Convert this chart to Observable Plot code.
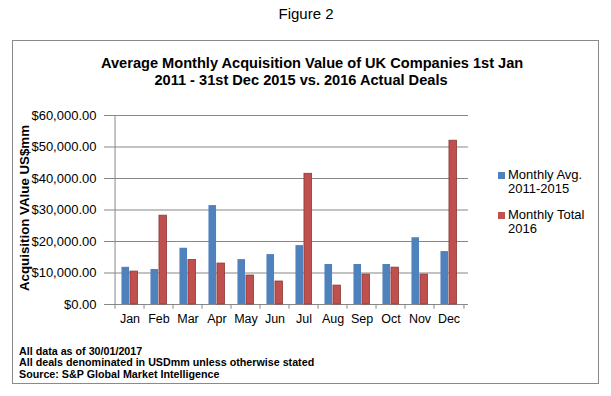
<!DOCTYPE html>
<html><head><meta charset="utf-8">
<script src="https://cdn.jsdelivr.net/npm/d3@7"></script>
<script src="https://cdn.jsdelivr.net/npm/@observablehq/plot@0.6"></script>
<style>
body{margin:0;background:#fff;font-family:"Liberation Sans",Arial,sans-serif;}
#wrap{position:relative;width:611px;height:396px;overflow:hidden;}
.abs{position:absolute;white-space:nowrap;color:#000;}
#frame{position:absolute;left:12px;top:40px;width:585px;height:342px;border:1px solid #8a8a8a;}
#chart{position:absolute;left:0;top:0;}
.sw{position:absolute;width:7px;height:7px;}
</style></head>
<body><div id="wrap">
<div id="frame"></div>
<div class="abs" style="left:205.5px;width:200px;top:6.5px;text-align:center;font-size:14px;line-height:14px;transform:scaleX(1.07);">Figure 2</div>
<div class="abs" style="left:101px;width:400px;top:55px;text-align:center;font-size:14.6px;font-weight:bold;line-height:16.7px;">Average Monthly Acquisition Value of UK Companies 1st Jan<br>2011 - 31st Dec 2015 vs. 2016 Actual Deals</div>
<div id="chart"></div>
<div class="abs" style="left:19px;top:345.5px;font-size:10.5px;font-weight:bold;line-height:11.8px;transform:scaleX(1.02);transform-origin:left top;">All data as of 30/01/2017<br>All deals denominated in USDmm unless otherwise stated<br>Source: S&amp;P Global Market Intelligence</div>
<div class="sw" style="left:498px;top:172px;background:#4f81bd"></div>
<div class="abs" style="left:508px;top:167.5px;font-size:13px;line-height:14px;">Monthly Avg.<br>2011-2015</div>
<div class="sw" style="left:498px;top:211.5px;background:#c0504d;"></div>
<div class="abs" style="left:508px;top:207.5px;font-size:13px;line-height:14px;">Monthly Total<br>2016</div>
</div>
<script>
const months = ["Jan","Feb","Mar","Apr","May","Jun","Jul","Aug","Sep","Oct","Nov","Dec"];
const avg2011_2015 = [11800, 11100, 17850, 31400, 14250, 15850, 18700, 12700, 12700, 12700, 21200, 16800];
const total2016 = [10450, 28200, 14150, 13000, 9200, 7300, 41500, 6000, 9500, 11700, 9500, 52000];
const yTicks = [0, 10000, 20000, 30000, 40000, 50000, 60000];

const rowsA = months.map((m, i) => ({month: m, value: avg2011_2015[i]}));
const rowsB = months.map((m, i) => ({month: m, value: total2016[i]}));

const W = 611, H = 396;
const ml = 109, mr = 143, mt = 115, mb = 92;
const step = (W - ml - mr) / months.length;
const bw = 8.5;
const off = (step - 2 * bw) / 2;
const fmt = d3.format("$,.2f");

const plot = Plot.plot({
  width: W, height: H,
  marginLeft: ml, marginRight: mr, marginTop: mt, marginBottom: mb,
  style: {fontFamily: "Liberation Sans, Arial, sans-serif", fontSize: "13px", color: "#000", background: "transparent"},
  x: {domain: months, padding: 0, label: null},
  y: {domain: [0, 60000], label: null},
  marks: [
    Plot.ruleY(yTicks, {stroke: "#878787", strokeWidth: 1}),
    Plot.barY(rowsA, {x: "month", y: "value", fill: "#4f81bd", insetLeft: off, insetRight: step - off - bw}),
    Plot.barY(rowsB, {x: "month", y: "value", fill: "#c0504d", stroke: "#8b3a38", strokeWidth: 0.8, insetLeft: off + bw, insetRight: off}),
    Plot.ruleX(months, {x: d => d, y1: 0, y2: -1500, dx: -step / 2, stroke: "#878787"}),
    Plot.ruleX([months[months.length - 1]], {x: d => d, y1: 0, y2: -1500, dx: step / 2, stroke: "#878787"}),
    Plot.ruleX([months[0]], {x: d => d, y1: 0, y2: 60000, dx: -step / 2, stroke: "#878787"}),
    Plot.axisY({ticks: yTicks, tickFormat: fmt, tickSize: 5, tickPadding: 8, stroke: "#878787", fill: "#000", label: null}),
    Plot.axisX({tickSize: 0, tickPadding: 10, fill: "#000", fontSize: 12.5, label: null})
  ]
});
document.getElementById("chart").appendChild(plot);

// y axis title
const yt = document.createElement("div");
yt.className = "abs";
yt.style.cssText = "left:24px;top:208px;font-size:13.3px;font-weight:bold;transform:translate(-50%,-50%) rotate(-90deg);";
yt.textContent = "Acquisition VAlue US$mm";
document.getElementById("wrap").appendChild(yt);
</script>
</body></html>
